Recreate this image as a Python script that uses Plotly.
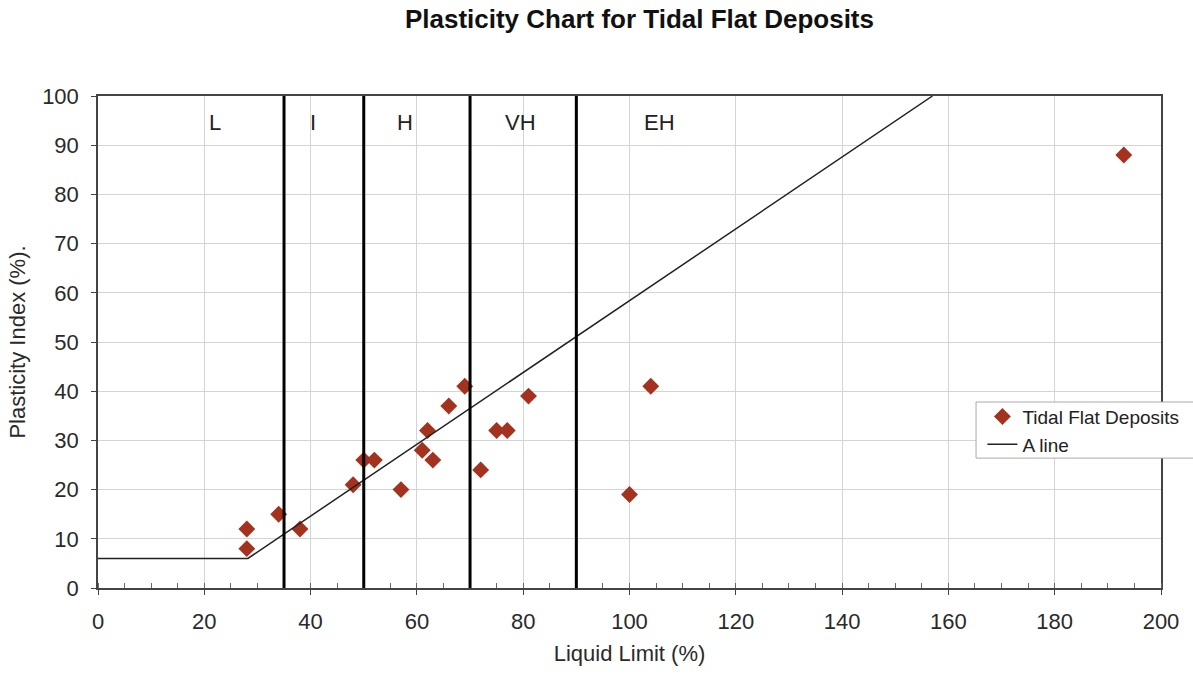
import plotly.graph_objects as go

# Data
liquid_limit = [28, 28, 34, 38, 48, 50, 52, 57, 61, 62, 63, 66, 69, 72, 75, 77, 81, 100, 104, 193]
plasticity_index = [12, 8, 15, 12, 21, 26, 26, 20, 28, 32, 26, 37, 41, 24, 32, 32, 39, 19, 41, 88]

a_line_x = [0, 28.2, 157]
a_line_y = [6, 6, 100]

boundaries = [35, 50, 70, 90]
zone_labels = ["L", "I", "H", "VH", "EH"]
zone_label_x = [22, 40.5, 57.8, 79.5, 105.7]
zone_label_y = 94.6

FONT = "Liberation Sans, Arial, sans-serif"

fig = go.Figure()

fig.add_trace(go.Scatter(
    x=liquid_limit, y=plasticity_index, mode="markers",
    name="Tidal Flat Deposits",
    marker=dict(symbol="diamond", size=13, color="#A3321F",
                line=dict(width=0)),
))
fig.add_trace(go.Scatter(
    x=a_line_x, y=a_line_y, mode="lines", name="A line",
    line=dict(color="#222222", width=1.5),
))

for b in boundaries:
    fig.add_shape(type="line", x0=b, x1=b, y0=0, y1=100, xref="x", yref="y",
                  line=dict(color="black", width=3), layer="above")

# legend frame (extends past the right edge of the page, as in the original)
fig.add_shape(type="rect", xref="paper", yref="paper",
              x0=0.826, x1=1.05, y0=0.264, y1=0.378,
              fillcolor="white", line=dict(color="#aaaaaa", width=1), layer="above")

for lbl, lx in zip(zone_labels, zone_label_x):
    fig.add_annotation(x=lx, y=zone_label_y, text=lbl, showarrow=False,
                       xref="x", yref="y",
                       font=dict(family=FONT, size=22, color="#222222"))

fig.update_layout(
    width=1193, height=675,
    margin=dict(l=98, r=32, t=96, b=87, autoexpand=False),
    paper_bgcolor="white", plot_bgcolor="white",
    font=dict(family=FONT, size=22, color="#2a2a2a"),
    title=dict(text="<b>Plasticity Chart for Tidal Flat Deposits</b>",
               x=0.536, xanchor="center", y=0.985, yanchor="top",
               font=dict(family=FONT, size=26, color="#111111")),
    legend=dict(x=0.832, y=0.387, xanchor="left", yanchor="top",
                bgcolor="rgba(0,0,0,0)", borderwidth=0,
                font=dict(family=FONT, size=19, color="#222222"),
                tracegroupgap=0, itemwidth=30),
    showlegend=True,
)

fig.update_xaxes(
    range=[0, 200], dtick=20, tick0=0,
    showgrid=True, gridcolor="#d4d4d4", gridwidth=1,
    showline=True, linecolor="#444444", linewidth=1.5, mirror=True,
    ticks="outside", ticklen=5, tickcolor="#444444",
    minor=dict(dtick=5, ticks="inside", ticklen=5, tickcolor="#666666", showgrid=False),
    zeroline=False, ticklabelstandoff=8,
    title=dict(text="Liquid Limit (%)", font=dict(family=FONT, size=22), standoff=12),
    tickfont=dict(family=FONT, size=22),
)
fig.update_yaxes(
    range=[0, 100], dtick=10, tick0=0,
    showgrid=True, gridcolor="#d4d4d4", gridwidth=1,
    showline=True, linecolor="#444444", linewidth=1.5, mirror=True,
    ticks="outside", ticklen=5, tickcolor="#444444",
    zeroline=False, ticklabelstandoff=8,
    title=dict(text="Plasticity Index (%).", font=dict(family=FONT, size=22), standoff=10),
    tickfont=dict(family=FONT, size=22),
)

fig.write_html("out.html")
